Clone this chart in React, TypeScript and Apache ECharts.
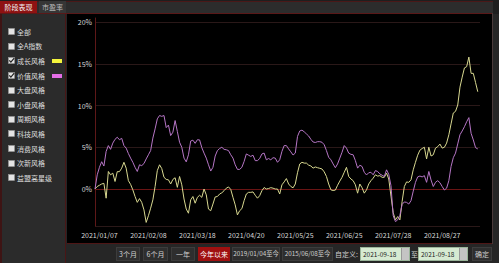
import React, { useEffect, useRef } from 'react';
import * as echarts from 'echarts';

// ---- data ----
const xTickLabels = ['2021/01/07', '2021/02/08', '2021/03/18', '2021/04/20', '2021/05/25', '2021/06/25', '2021/07/28', '2021/08/27'];
const tickFirstIndex = 2;
const tickStep = 22;
const categoryCount = 174;

// 成长风格 (yellow), cumulative return %
const growthSeries = [
  0.0, 0.3, 0.45, 0.6, 0.68, -1.1, 2.1, 1.7, 1.9, 0.9,
  2.08, 2.08, 2.5, 3.2, 2.5, 1.0, 0.55, -0.1, -0.9, -1.6,
  -1.15, -1.6, -2.5, -4.0, -3.2, -2.3, -1.3, 0.3, 2.2, 2.9,
  2.45, 1.4, 1.15, 1.1, 0.6, 1.15, 1.35, 0.2, 1.5, 0.5,
  -1.2, -2.4, -2.9, -1.3, -0.9, -1.7, -1.0, -0.75, -1.0, 0.0,
  -0.7, -2.4, -2.6, -1.8, -0.95, -0.9, -0.6, -0.45, -0.2, 0.1,
  0.25, -0.05, -1.0, -1.9, -3.1, -2.6, -2.35, -1.4, -0.6, -0.4,
  -0.4, -0.35, -0.75, -1.1, -0.8, -0.2, 0.18, 0.0, 0.06, 0.16,
  0.1, 0.0, 0.0, -0.6, 0.5, 0.85, 1.25, 0.6, 0.3, 0.14,
  0.6, 1.95, 3.0, 3.2, 3.1, 3.1, 2.86, 2.76, 2.5, 2.64,
  2.55, 2.48, 2.4, 2.05, 1.5, 0.6, -0.1, -0.18, -0.13, 0.45,
  0.95, 1.4, 2.0, 2.6, 1.5, 1.2, 1.0, 0.5, -0.5, 0.6,
  0.15, -0.5, -0.1, 0.6, 1.0, 1.3, 1.7, 1.55, 1.6, 1.4,
  1.4, 1.9, 1.2, -0.85, -2.85, -3.7, -3.3, -3.7, -1.5, 0.3,
  0.85, 0.8, 1.1, 2.3, 3.2, 4.05, 4.65, 4.85, 5.0, 3.6,
  5.0, 3.95, 4.1, 4.9, 5.07, 5.38, 4.9, 5.0, 5.5, 6.5,
  7.8, 9.1, 9.3, 10.06, 12.2, 13.4, 14.5, 14.65, 15.8, 13.85,
  13.85, 12.75, 11.65,
];

// 价值风格 (purple), cumulative return %
const valueSeries = [
  0.0, 1.7, 2.6, 3.27, 2.75, 4.5, 5.2, 4.75, 5.5, 5.95,
  6.2, 5.9, 6.07, 5.2, 4.9, 4.25, 3.7, 3.2, 2.6, 2.1,
  2.9, 2.8, 3.05, 3.6, 4.1, 4.6, 6.1, 7.2, 8.4, 8.8,
  8.7, 8.8, 7.35, 7.66, 6.4, 6.8, 8.2, 6.9, 5.6, 5.0,
  3.7, 3.25, 4.1, 5.75, 5.85, 5.47, 5.9, 5.88, 4.95, 4.3,
  3.7, 2.9, 2.15, 2.6, 3.95, 4.6, 4.85, 5.0, 4.75, 4.7,
  4.6, 4.1, 3.7, 2.9, 2.35, 2.35, 2.6, 3.3, 4.2, 4.05,
  3.9, 4.05, 3.4, 3.4, 3.65, 4.2, 4.3, 3.5, 3.65, 3.5,
  3.75, 3.7, 3.2, 3.5, 4.5, 5.2, 5.2, 4.8, 4.45, 4.07,
  4.3, 6.3, 6.95, 7.05, 6.85, 6.6, 6.35, 5.95, 5.63, 5.57,
  5.67, 5.67, 5.6, 5.3, 4.6, 3.8, 3.5, 3.0, 2.55, 3.0,
  3.7, 4.4, 5.2, 4.9, 4.3, 4.15, 4.1, 3.4, 2.5, 2.85,
  2.7, 2.0, 1.68, 1.95, 2.0, 1.7, 2.2, 2.1, 1.8, 1.65,
  1.5, 2.3, 1.75, 0.4, -3.2, -3.9, -3.7, -3.15, -1.85, -1.55,
  -1.6, -1.8, -1.4, -0.25, 0.8, 1.45, 1.55, 1.45, 1.6, 0.8,
  2.1, 1.08, 0.3, 0.8, 1.0, 0.75, 0.3, -0.12, 0.1, 1.0,
  2.7, 3.75, 4.3, 5.4, 6.5, 6.95, 7.46, 8.05, 8.55, 6.67,
  5.87, 4.95, 4.8,
];

const yMin = -4.43;
const yMax = 20.48;
const yTickStep = 5;

const styleItems = ['全部', '全A指数', '成长风格', '价值风格', '大盘风格', '小盘风格', '周期风格', '科技风格', '消费风格', '次新风格', '益盟高星级'];
const checkedColors: Record<string, string> = { '成长风格': '#f4f43c', '价值风格': '#e46ee6' };
const tabs = ['阶段表现', '市盈率'];
const rangeButtons = ['3个月', '6个月', '一年', '今年以来', '2019/01/04至今', '2015/06/08至今'];
const activeRange = '今年以来';
const customDate = '2021-09-18';

const FONT = '"Noto Sans CJK SC", "Noto Sans", sans-serif';

function tickLabelAt(i: number): string {
  const k = (i - tickFirstIndex) / tickStep;
  if (Number.isInteger(k) && k >= 0 && k < xTickLabels.length) return xTickLabels[k];
  return '';
}

function Chart() {
  const ref = useRef<HTMLDivElement>(null);
  useEffect(() => {
    if (!ref.current) return;
    const chart = echarts.init(ref.current, undefined, { renderer: 'svg' });
    const categories = Array.from({ length: categoryCount }, (_, i) => tickLabelAt(i) || `d${i}`);
    const grid = '#2a1818';
    chart.setOption({
      animation: false,
      backgroundColor: '#000',
      grid: { left: 28, top: 4, right: 12, bottom: 17 },
      xAxis: {
        type: 'category',
        data: categories,
        boundaryGap: false,
        axisLine: { show: true, lineStyle: { color: '#5e1818', width: 1 } },
        axisTick: { show: false },
        axisLabel: {
          interval: (i: number) => tickLabelAt(i) !== '',
          formatter: (_v: string, i: number) => tickLabelAt(i),
          color: '#d8d8d8',
          fontSize: 7,
          fontFamily: FONT,
          margin: 5,
        },
        splitLine: { show: false },
      },
      yAxis: {
        type: 'value',
        min: yMin,
        max: yMax,
        axisLine: { show: true, lineStyle: { color: '#5e1818', width: 1 } },
        axisTick: { show: false },
        axisLabel: {
          color: '#d8d8d8',
          fontSize: 7,
          fontFamily: FONT,
          margin: 3,
          formatter: (v: number) => {
            const r = Math.round(v / yTickStep) * yTickStep;
            return Math.abs(v - r) < 1e-6 ? `${r}%` : '';
          },
        },
        splitLine: { show: true, lineStyle: { color: [grid, grid, grid, grid, grid, grid, 'rgba(0,0,0,0)'], width: 1 } },
      },
      series: [
        {
          name: '成长风格',
          type: 'line',
          data: growthSeries,
          showSymbol: false,
          symbol: 'none',
          lineStyle: { color: '#d8d890', width: 1 },
          itemStyle: { color: '#d8d890' },
          z: 3,
          markLine: {
            silent: true,
            symbol: 'none',
            label: { show: false },
            lineStyle: { color: '#6a1414', type: 'solid', width: 1 },
            data: [{ yAxis: 0 }],
            z: 1,
          },
        },
        {
          name: '价值风格',
          type: 'line',
          data: valueSeries,
          showSymbol: false,
          symbol: 'none',
          lineStyle: { color: '#b676c6', width: 1 },
          itemStyle: { color: '#b676c6' },
          z: 3,
        },
      ],
    });
    return () => chart.dispose();
  }, []);
  return <div ref={ref} style={{ position: 'absolute', left: 67, top: 14, width: 425, height: 229 }} />;
}

function CheckBox({ checked }: { checked: boolean }) {
  return (
    <svg width={7} height={7} style={{ position: 'absolute', left: 8, top: -3.5 }}>
      <rect x={0.5} y={0.5} width={6} height={6} fill="#e4e4e4" stroke="#9a9a9a" strokeWidth={0.6} />
      {checked && <polyline points="1.3,3.4 2.9,5.2 6.2,1.2" fill="none" stroke="#222" strokeWidth={1.2} />}
    </svg>
  );
}

export default function App() {
  useEffect(() => {
    document.body.style.margin = '0';
    document.body.style.background = '#262626';
  }, []);

  const btnBase: React.CSSProperties = {
    position: 'absolute',
    top: 247,
    height: 14,
    boxSizing: 'border-box',
    border: '1px solid #3c3c3c',
    background: '#2e2e2e',
    color: '#cfcfcf',
    fontSize: 7,
    lineHeight: '12px',
    textAlign: 'center',
    whiteSpace: 'nowrap',
    overflow: 'hidden',
    fontFamily: FONT,
  };
  const btnPos: [number, number][] = [[116, 24], [143, 25], [171, 24], [198, 32], [232, 48], [282, 51]];

  return (
    <div style={{ position: 'fixed', left: 0, top: 0, width: 499, height: 263, background: '#262626', overflow: 'hidden', fontFamily: FONT }}>
      {/* top tab bar */}
      <div style={{ position: 'absolute', left: 0, top: 0, width: 499, height: 14, background: '#1e1e1e' }} />
      <div style={{ position: 'absolute', left: 0, top: 1, width: 493, height: 11, background: '#2c2c2c', borderTop: '1px solid #4a1818', borderBottom: '1px solid #5a1818' }} />
      <div style={{ position: 'absolute', left: 0, top: 1, width: 37, height: 12, background: '#8e1212', color: '#f2f2f2', fontSize: 7, lineHeight: '12px', textAlign: 'center' }}>{tabs[0]}</div>
      <div style={{ position: 'absolute', left: 39, top: 1, width: 27, height: 12, background: '#363636', color: '#bdbdbd', fontSize: 7, lineHeight: '12px', textAlign: 'center' }}>{tabs[1]}</div>

      {/* left panel */}
      <div style={{ position: 'absolute', left: 0, top: 14, width: 66, height: 249, background: '#2b2b2b', borderLeft: '2px solid #3e1414', borderRight: '1px solid #4a1616', boxSizing: 'border-box' }} />
      {styleItems.map((name, k) => {
        const y = 31.7 + k * 14.6;
        const color = checkedColors[name];
        return (
          <div key={name} style={{ position: 'absolute', left: 0, top: y, width: 66, height: 0 }}>
            <CheckBox checked={!!color} />
            <div style={{ position: 'absolute', left: 17, top: -6, height: 12, lineHeight: '12px', fontSize: 7, color: '#dedede', whiteSpace: 'nowrap' }}>{name}</div>
            {color && <div style={{ position: 'absolute', left: 52, top: -2, width: 10, height: 4, background: color }} />}
          </div>
        );
      })}

      {/* chart area */}
      <div style={{ position: 'absolute', left: 67, top: 14, width: 425, height: 229, background: '#000' }} />
      <Chart />
      <div style={{ position: 'absolute', left: 67, top: 243, width: 426, height: 1, background: '#4e1616' }} />
      <div style={{ position: 'absolute', left: 492, top: 13, width: 1, height: 231, background: '#4a3a3a' }} />

      {/* bottom bar */}
      {rangeButtons.map((label, k) => {
        const active = label === activeRange;
        const small = label.length > 6;
        return (
          <div key={label} style={{ ...btnBase, left: btnPos[k][0], width: btnPos[k][1], fontSize: small ? 6.3 : 7, background: active ? '#a01010' : '#2e2e2e', border: active ? '1px solid #a01010' : '1px solid #3c3c3c', color: active ? '#ffffff' : '#cfcfcf' }}>{label}</div>
        );
      })}
      <div style={{ position: 'absolute', left: 335, top: 247, height: 14, lineHeight: '14px', fontSize: 7, color: '#cfcfcf', whiteSpace: 'nowrap' }}>自定义:</div>
      {[360, 418].map((left) => (
        <div key={left} style={{ position: 'absolute', left, top: 247, width: 50, height: 14, background: '#d6ead2', boxSizing: 'border-box', border: '1px solid #9ab59a' }}>
          <div style={{ position: 'absolute', left: 2, top: 0, lineHeight: '12px', fontSize: 6.5, color: '#222', whiteSpace: 'nowrap' }}>{customDate}</div>
          <div style={{ position: 'absolute', right: 0, top: 0, width: 7, height: 12, background: '#c4c4c4', borderLeft: '1px solid #999' }} />
        </div>
      ))}
      <div style={{ position: 'absolute', left: 411, top: 247, height: 14, lineHeight: '14px', fontSize: 7, color: '#cfcfcf' }}>至</div>
      <div style={{ ...btnBase, left: 472, width: 20 }}>确定</div>
    </div>
  );
}
